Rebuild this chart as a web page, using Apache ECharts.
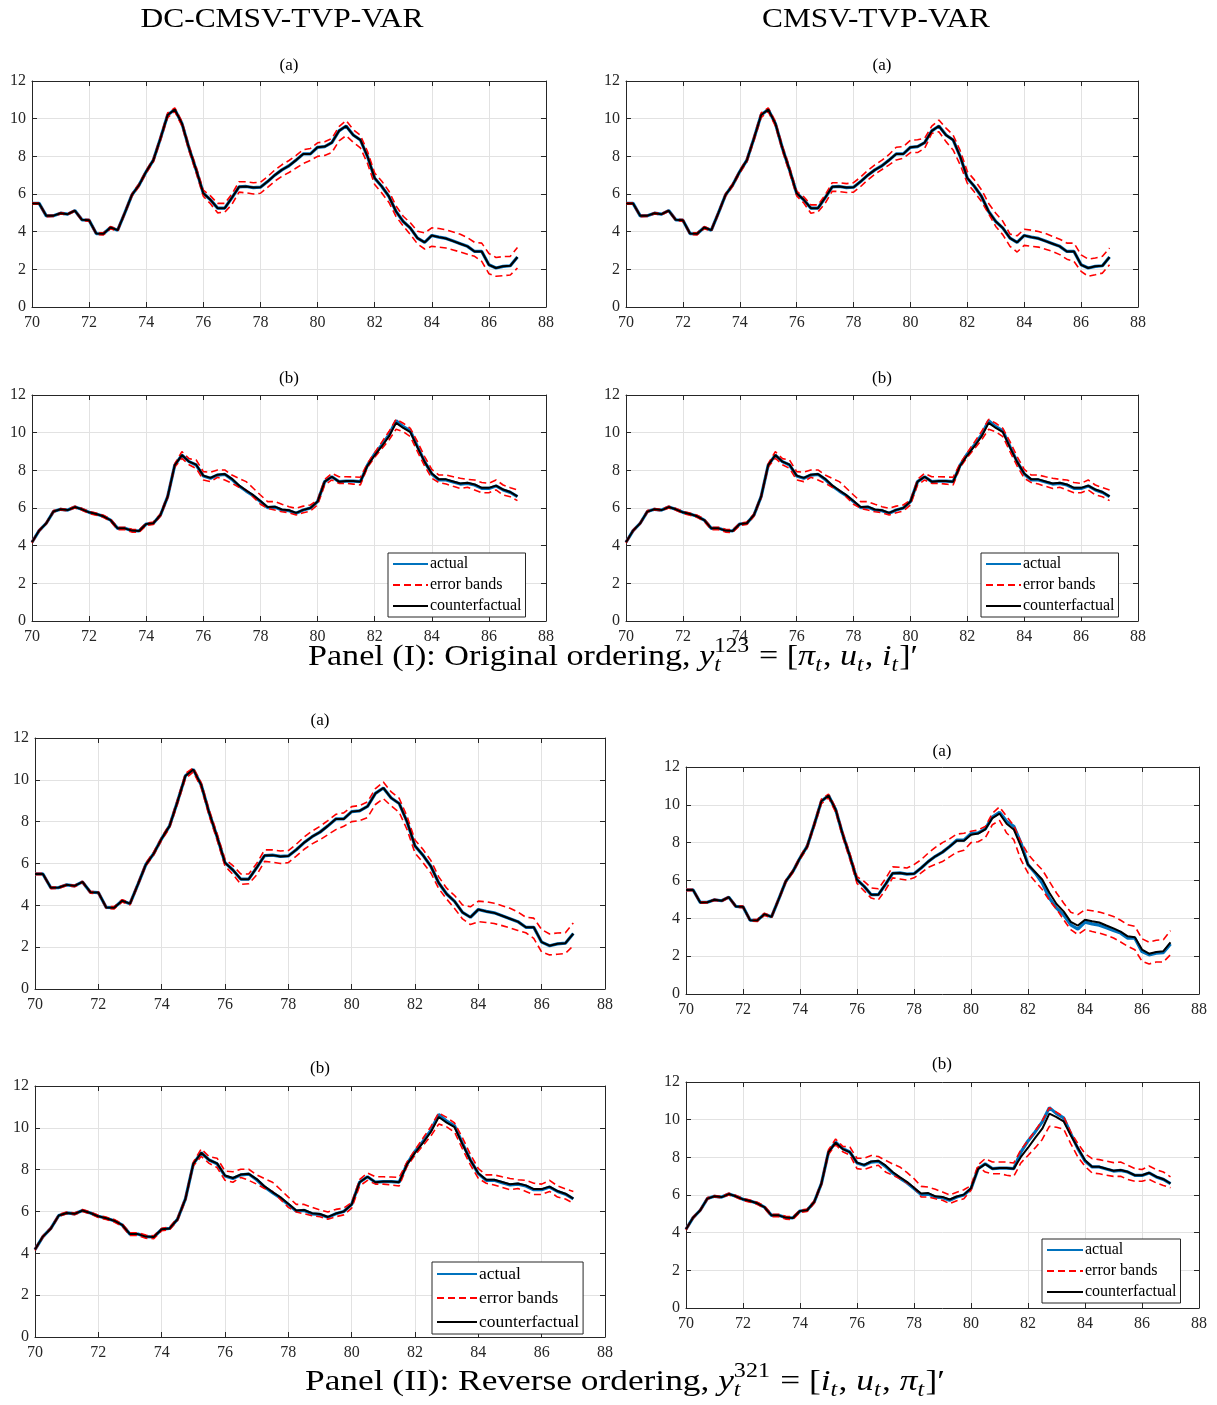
<!DOCTYPE html>
<html><head><meta charset="utf-8">
<script src="https://cdn.jsdelivr.net/npm/echarts@6/dist/echarts.min.js"></script>
<style>html,body{margin:0;padding:0;background:#fff}#c{width:1217px;height:1405px}</style>
</head><body><div id="c"></div>
<script>
// quarterly time index 1970Q1 .. 1987Q1
const quarters = [];
for (let i = 0; i < 69; i++) quarters.push(70 + 0.25 * i);

// (a) actual series
const actualA = [5.5,5.5,4.84,4.85,4.98,4.93,5.12,4.63,4.61,3.90,3.89,4.22,4.08,5.0,5.95,6.48,7.19,7.80,8.96,10.19,
 10.49,9.75,8.43,7.28,6.04,5.69,5.25,5.25,5.8,6.38,6.4,6.34,6.36,6.66,7.0,7.28,7.5,7.8,8.13,8.13,
 8.48,8.52,8.73,9.35,9.61,9.13,8.87,7.99,6.84,6.4,5.87,5.07,4.54,4.19,3.66,3.43,3.8,3.71,3.64,3.5,
 3.36,3.22,2.95,2.95,2.24,2.07,2.16,2.19,2.65];
// (b) actual series
const actualB = [4.18,4.8,5.19,5.81,5.93,5.89,6.05,5.93,5.77,5.68,5.56,5.36,4.92,4.92,4.8,4.78,5.15,5.19,5.63,6.6,
 8.28,8.81,8.46,8.28,7.7,7.58,7.75,7.79,7.52,7.17,6.9,6.65,6.34,6.02,6.05,5.89,5.86,5.72,5.89,6.0,
 6.34,7.4,7.66,7.4,7.43,7.43,7.4,8.28,8.87,9.35,9.88,10.64,10.32,10.09,9.26,8.46,7.81,7.49,7.49,7.38,
 7.27,7.31,7.22,7.04,7.04,7.17,6.96,6.83,6.6];

// DC-CMSV-TVP-VAR (a): error bands
const upLA = [5.53,5.53,4.87,4.88,5.01,4.96,5.15,4.67,4.65,3.94,3.94,4.27,4.13,5.06,6.02,6.55,7.26,7.88,9.06,10.3,
 10.57,9.86,8.56,7.43,6.2,5.9,5.5,5.5,6.0,6.65,6.65,6.6,6.62,6.92,7.27,7.55,7.78,8.05,8.35,8.42,
 8.72,8.77,8.95,9.58,9.9,9.42,9.12,8.25,7.12,6.68,6.15,5.36,4.82,4.47,4.02,3.93,4.2,4.17,4.1,3.98,
 3.86,3.68,3.43,3.39,2.84,2.63,2.68,2.69,3.16];
const loLA = [5.46,5.46,4.8,4.81,4.94,4.89,5.08,4.58,4.56,3.85,3.83,4.16,4.02,4.94,5.88,6.41,7.11,7.7,8.84,10.06,
 10.38,9.62,8.28,7.12,5.88,5.48,5.0,5.03,5.45,6.1,6.06,6.0,6.04,6.35,6.68,6.94,7.14,7.38,7.62,7.78,
 8.0,8.05,8.2,8.82,9.1,8.75,8.45,7.62,6.5,6.05,5.55,4.8,4.3,3.85,3.35,3.08,3.22,3.18,3.13,3.03,
 2.92,2.8,2.69,2.42,1.77,1.63,1.66,1.7,2.07];
// DC-CMSV-TVP-VAR (b)
const cfLB = [4.18,4.8,5.19,5.81,5.93,5.89,6.05,5.93,5.77,5.68,5.56,5.36,4.92,4.92,4.8,4.78,5.15,5.19,5.63,6.6,
 8.28,8.81,8.46,8.3,7.72,7.6,7.77,7.8,7.55,7.2,6.93,6.68,6.37,6.05,6.07,5.92,5.88,5.74,5.9,6.0,
 6.34,7.4,7.66,7.4,7.43,7.43,7.4,8.25,8.8,9.28,9.8,10.52,10.25,10.03,9.22,8.45,7.83,7.52,7.52,7.41,
 7.3,7.34,7.25,7.07,7.07,7.19,6.98,6.85,6.62];
const upLB = [4.22,4.84,5.23,5.86,5.97,5.93,6.1,5.98,5.82,5.73,5.62,5.42,4.98,4.98,4.87,4.84,5.2,5.25,5.7,6.68,
 8.36,8.99,8.62,8.55,7.93,7.9,8.02,8.02,7.75,7.57,7.4,7.05,6.69,6.34,6.34,6.2,6.07,5.98,6.1,6.16,
 6.43,7.52,7.84,7.66,7.66,7.65,7.63,8.37,8.94,9.5,10.06,10.71,10.5,10.23,9.52,8.73,8.05,7.75,7.75,7.66,
 7.58,7.52,7.49,7.35,7.31,7.49,7.22,7.08,6.96];
const loLB = [4.14,4.76,5.15,5.77,5.89,5.85,6.0,5.88,5.71,5.62,5.5,5.29,4.85,4.85,4.72,4.7,5.08,5.12,5.56,6.52,
 8.18,8.64,8.3,8.1,7.49,7.4,7.63,7.49,7.31,7.1,6.96,6.58,6.2,5.98,5.89,5.8,5.75,5.63,5.75,5.84,
 6.16,7.22,7.49,7.31,7.31,7.27,7.22,8.16,8.69,9.15,9.61,10.18,10.05,9.79,8.99,8.23,7.58,7.35,7.27,7.15,
 7.04,7.1,6.96,6.81,6.81,6.96,6.69,6.6,6.39];

// CMSV-TVP-VAR, original ordering (a)
const upRA = [5.53,5.53,4.87,4.88,5.01,4.96,5.15,4.67,4.65,3.94,3.94,4.27,4.13,5.06,6.02,6.55,7.26,7.88,9.06,10.3,
 10.57,9.86,8.56,7.43,6.15,5.85,5.42,5.42,5.95,6.6,6.6,6.55,6.6,6.9,7.25,7.55,7.8,8.1,8.48,8.52,
 8.85,8.88,8.96,9.6,9.93,9.5,9.13,8.3,7.19,6.75,6.22,5.5,4.98,4.55,3.87,3.78,4.13,4.08,4.01,3.9,
 3.75,3.6,3.39,3.39,2.77,2.54,2.6,2.69,3.13];
const loRA = [5.46,5.46,4.8,4.81,4.94,4.89,5.08,4.58,4.56,3.85,3.83,4.16,4.02,4.94,5.88,6.41,7.11,7.7,8.84,10.06,
 10.38,9.62,8.28,7.12,5.9,5.52,4.98,5.05,5.5,6.15,6.13,6.08,6.1,6.4,6.75,7.05,7.3,7.55,7.81,7.9,
 8.2,8.2,8.43,9.22,9.31,8.78,8.34,7.54,6.57,6.1,5.6,4.95,4.28,3.83,3.22,2.92,3.27,3.22,3.18,3.07,
 2.95,2.78,2.54,2.42,1.89,1.63,1.71,1.8,2.24];
// CMSV-TVP-VAR, original ordering (b)
const upRB = upLB;
const loRB = loLB;

// CMSV-TVP-VAR, reverse ordering (a)
const cfRIIA = [5.5,5.5,4.84,4.85,4.98,4.93,5.12,4.63,4.61,3.90,3.89,4.22,4.08,5.0,5.95,6.48,7.19,7.80,8.96,10.19,
 10.49,9.75,8.43,7.28,6.04,5.69,5.25,5.25,5.8,6.38,6.4,6.34,6.36,6.66,7.0,7.28,7.5,7.8,8.1,8.1,
 8.42,8.48,8.7,9.3,9.54,9.0,8.7,7.82,6.84,6.45,6.05,5.35,4.76,4.37,3.81,3.62,3.93,3.85,3.78,3.62,
 3.47,3.3,3.05,3.0,2.35,2.13,2.22,2.26,2.73];
const upRIIA = [5.53,5.53,4.87,4.88,5.01,4.96,5.15,4.67,4.65,3.94,3.94,4.27,4.13,5.06,6.02,6.55,7.26,7.88,9.06,10.3,
 10.57,9.86,8.56,7.43,6.2,5.95,5.61,5.56,6.1,6.72,6.7,6.66,6.84,7.1,7.45,7.75,8.0,8.2,8.45,8.5,
 8.6,8.68,8.85,9.55,9.89,9.39,8.9,8.05,7.4,6.95,6.57,5.95,5.34,4.81,4.32,4.2,4.46,4.4,4.33,4.22,
 4.1,3.9,3.66,3.58,2.92,2.74,2.84,2.87,3.35];
const loRIIA = [5.46,5.46,4.8,4.81,4.94,4.89,5.08,4.58,4.56,3.85,3.83,4.16,4.02,4.94,5.88,6.41,7.11,7.7,8.84,10.06,
 10.38,9.62,8.28,7.12,5.85,5.45,5.07,4.98,5.5,6.14,6.08,6.02,6.14,6.4,6.7,6.85,7.0,7.25,7.5,7.6,
 8.0,8.05,8.25,8.95,9.18,8.51,8.16,7.1,6.4,5.95,5.52,4.95,4.49,3.93,3.4,3.14,3.4,3.3,3.22,3.1,
 2.96,2.75,2.52,2.34,1.73,1.59,1.69,1.69,2.08];
// CMSV-TVP-VAR, reverse ordering (b)
const cfRIIB = [4.18,4.8,5.19,5.81,5.93,5.89,6.05,5.93,5.77,5.68,5.56,5.36,4.92,4.92,4.8,4.78,5.15,5.19,5.63,6.6,
 8.28,8.78,8.44,8.28,7.72,7.6,7.78,7.82,7.57,7.22,6.95,6.7,6.38,6.08,6.1,5.93,5.9,5.76,5.92,6.02,
 6.36,7.38,7.64,7.4,7.43,7.43,7.4,8.02,8.51,9.03,9.52,10.32,10.14,9.91,9.17,8.5,7.84,7.5,7.5,7.39,
 7.29,7.33,7.23,7.05,7.05,7.18,6.97,6.84,6.61];
const upRIIB = [4.22,4.84,5.23,5.86,5.97,5.93,6.1,5.98,5.82,5.73,5.62,5.42,4.98,4.98,4.87,4.84,5.2,5.25,5.7,6.68,
 8.4,8.97,8.58,8.55,7.95,7.95,8.1,8.04,7.84,7.65,7.49,7.2,6.87,6.46,6.42,6.3,6.16,6.0,6.15,6.28,
 6.5,7.6,7.93,7.75,7.75,7.75,7.7,8.4,8.9,9.4,9.95,10.64,10.4,10.16,9.35,8.73,8.2,7.93,7.88,7.8,
 7.72,7.75,7.58,7.4,7.35,7.54,7.35,7.22,6.96];
const loRIIB = [4.14,4.76,5.15,5.77,5.89,5.85,6.0,5.88,5.71,5.62,5.5,5.29,4.85,4.85,4.72,4.7,5.08,5.12,5.56,6.52,
 8.15,8.67,8.3,8.12,7.4,7.35,7.49,7.58,7.22,7.05,6.87,6.65,6.42,5.89,5.89,5.8,5.72,5.54,5.7,5.8,
 6.25,7.5,7.22,7.13,7.13,7.05,6.99,7.7,8.1,8.5,8.95,9.65,9.6,9.5,8.73,8.02,7.52,7.17,7.13,7.05,
 6.99,6.99,6.83,6.73,6.73,6.83,6.64,6.51,6.39];

const legendNames = ['actual', 'error bands', 'counterfactual'];
const colHeaders = ['DC-CMSV-TVP-VAR', 'CMSV-TVP-VAR'];
const xTicks = {min: 70, max: 88, step: 2};
const yTicks = {min: 0, max: 12, step: 2};

const FONT = '"Liberation Serif", "Times New Roman", serif';
const AX = '#262626';

const panels = [
  {grid:{left:32,top:81,width:514,height:226}, title:'(a)', tx:289, ty:66, act:actualA, cf:actualA, up:upLA, lo:loLA},
  {grid:{left:32,top:395,width:514,height:226}, title:'(b)', tx:289, ty:379, act:actualB, cf:cfLB, up:upLB, lo:loLB,
    legend:{left:388, top:553, fs:16, ih:14, gap:5, iw:35}},
  {grid:{left:626,top:81,width:512,height:226}, title:'(a)', tx:882, ty:66, act:actualA, cf:actualA, up:upRA, lo:loRA},
  {grid:{left:626,top:395,width:512,height:226}, title:'(b)', tx:882, ty:379, act:actualB, cf:cfLB, up:upRB, lo:loRB,
    legend:{left:981, top:553, fs:16, ih:14, gap:5, iw:35}},
  {grid:{left:35,top:738,width:570,height:251}, title:'(a)', tx:320, ty:721, act:actualA, cf:actualA, up:upLA, lo:loLA},
  {grid:{left:35,top:1086,width:570,height:251}, title:'(b)', tx:320, ty:1069, act:actualB, cf:cfLB, up:upLB, lo:loLB,
    legend:{left:432, top:1262, fs:17.5, ih:15, gap:6, iw:40}},
  {grid:{left:686,top:767,width:513,height:227}, title:'(a)', tx:942, ty:752, act:actualA, cf:cfRIIA, up:upRIIA, lo:loRIIA},
  {grid:{left:686,top:1082,width:513,height:226}, title:'(b)', tx:942, ty:1065, act:actualB, cf:cfRIIB, up:upRIIB, lo:loRIIB,
    legend:{left:1042, top:1239, fs:16, ih:14, gap:5, iw:36}}
];

const option = {animation:false, backgroundColor:'#fff', grid:[], xAxis:[], yAxis:[], series:[], legend:[], graphic:[]};
const line = {show:true, onZero:false, lineStyle:{color:AX, width:1}};
const tick = {show:true, inside:true, length:5, lineStyle:{color:AX, width:1}};
const lbl = {fontFamily:FONT, fontSize:16, color:AX};
const mk = arr => quarters.map((q, i) => [q, arr[i]]);

panels.forEach((p, k) => {
  option.grid.push(Object.assign({containLabel:false}, p.grid));
  option.xAxis.push({type:'value', gridIndex:k, position:'bottom', min:xTicks.min, max:xTicks.max, interval:xTicks.step,
    axisLine:line, axisTick:tick, axisLabel:Object.assign({margin:8}, lbl),
    splitLine:{show:true, lineStyle:{color:'#e2e2e2', width:1}}});
  option.xAxis.push({type:'value', gridIndex:k, position:'top', min:xTicks.min, max:xTicks.max, interval:xTicks.step,
    axisLine:line, axisTick:tick, axisLabel:{show:false}, splitLine:{show:false}});
  option.yAxis.push({type:'value', gridIndex:k, position:'left', min:yTicks.min, max:yTicks.max, interval:yTicks.step,
    axisLine:line, axisTick:tick, axisLabel:Object.assign({margin:6}, lbl),
    splitLine:{show:true, lineStyle:{color:'#e2e2e2', width:1}}});
  option.yAxis.push({type:'value', gridIndex:k, position:'right', min:yTicks.min, max:yTicks.max, interval:yTicks.step,
    axisLine:line, axisTick:tick, axisLabel:{show:false}, splitLine:{show:false}});
  const xi = 2 * k, yi = 2 * k;
  const base = {type:'line', xAxisIndex:xi, yAxisIndex:yi, symbol:'none', showSymbol:false, silent:true, emphasis:{disabled:true}};
  option.series.push(Object.assign({}, base, {name:'actual', data:mk(p.act), z:2,
    lineStyle:{color:'#0072BD', width:3.2}, itemStyle:{color:'#0072BD'}}));
  option.series.push(Object.assign({}, base, {name:'error bands', data:mk(p.up), z:3,
    lineStyle:{color:'#FF0000', width:1.6, type:[7,4]}, itemStyle:{color:'#FF0000'}}));
  option.series.push(Object.assign({}, base, {name:'error bands', data:mk(p.lo), z:3,
    lineStyle:{color:'#FF0000', width:1.6, type:[7,4]}, itemStyle:{color:'#FF0000'}}));
  option.series.push(Object.assign({}, base, {name:'counterfactual', data:mk(p.cf), z:4,
    lineStyle:{color:'#000000', width:2}, itemStyle:{color:'#000000'}}));
  option.graphic.push({type:'text', x:p.tx, y:p.ty, silent:true,
    style:{text:p.title, font:'17px ' + FONT, fill:'#000', align:'center', verticalAlign:'middle'}});
  if (p.legend) {
    const L = p.legend;
    option.legend.push({data:legendNames, orient:'vertical', left:L.left, top:L.top, selectedMode:false,
      backgroundColor:'#fff', borderColor:AX, borderWidth:1, borderRadius:0, padding:[3,4,3,4],
      itemWidth:L.iw, itemHeight:L.ih, itemGap:L.gap, z:10, itemStyle:{opacity:0},
      textStyle:{fontFamily:FONT, fontSize:L.fs, color:'#000', padding:[0,0,0,-3]}});
  }
});

// text measuring for composed (math-like) titles
const mctx = document.createElement('canvas').getContext('2d');
function tw(t, size, it) { mctx.font = (it ? 'italic ' : '') + size + 'px ' + FONT; return mctx.measureText(t).width; }
function tokWidth(tk, size) {
  const ss = size * 0.68;
  if (tk.t !== undefined) return tw(tk.t, size, tk.i);
  return Math.max(tk.sub ? tw(tk.sub, ss, true) : 0, tk.sup ? tw(tk.sup, ss, false) : 0) + size * 0.04;
}
function mathTitle(tokens, cx, targetW, baseY, size) {
  const ss = size * 0.68;
  const tot = tokens.reduce((a, tk) => a + tokWidth(tk, size), 0);
  const sx = targetW / tot;
  let x = cx - targetW / 2;
  tokens.forEach(tk => {
    const w = tokWidth(tk, size) * sx;
    if (tk.t !== undefined) {
      option.graphic.push({type:'text', x:x, y:baseY - 0.34 * size, scaleX:sx, silent:true,
        style:{text:tk.t, font:(tk.i ? 'italic ' : '') + size + 'px ' + FONT, fill:'#000', align:'left', verticalAlign:'middle'}});
    } else {
      if (tk.sub) option.graphic.push({type:'text', x:x, y:baseY + 0.2 * size - 0.34 * ss, scaleX:sx, silent:true,
        style:{text:tk.sub, font:'italic ' + ss + 'px ' + FONT, fill:'#000', align:'left', verticalAlign:'middle'}});
      if (tk.sup) option.graphic.push({type:'text', x:x, y:baseY - 0.45 * size - 0.34 * ss, scaleX:sx, silent:true,
        style:{text:tk.sup, font:ss + 'px ' + FONT, fill:'#000', align:'left', verticalAlign:'middle'}});
    }
    x += w;
  });
}
mathTitle([{t:'Panel (I): Original ordering, '},{t:'y',i:1},{sub:'t',sup:'123'},{t:' = ['},{t:'π',i:1},{sub:'t'},
  {t:', '},{t:'u',i:1},{sub:'t'},{t:', '},{t:'i',i:1},{sub:'t'},{t:']′'}], 613, 610, 667, 30);
mathTitle([{t:'Panel (II): Reverse ordering, '},{t:'y',i:1},{sub:'t',sup:'321'},{t:' = ['},{t:'i',i:1},{sub:'t'},
  {t:', '},{t:'u',i:1},{sub:'t'},{t:', '},{t:'π',i:1},{sub:'t'},{t:']′'}], 625, 640, 1392, 30);
mathTitle([{t:colHeaders[0]}], 282, 283, 29, 27);
mathTitle([{t:colHeaders[1]}], 876, 228, 29, 27);

const chart = echarts.init(document.getElementById('c'), null, {renderer:'canvas'});
chart.setOption(option);
</script></body></html>
